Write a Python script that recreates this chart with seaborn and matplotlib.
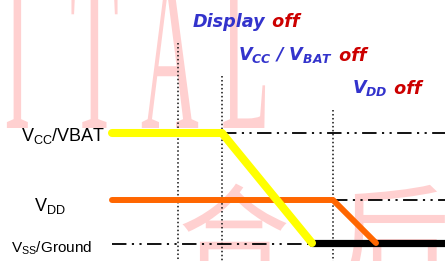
"""
Power-off sequence timing diagram
"""

import matplotlib
matplotlib.use('Agg')
import matplotlib.pyplot as plt
import seaborn as sns
from matplotlib.textpath import TextPath
from matplotlib.patches import PathPatch
from matplotlib.font_manager import FontProperties
from matplotlib.transforms import Affine2D

sns.set_style('white')
plt.rcParams['font.family'] = ['Liberation Sans', 'DejaVu Sans', 'Noto Sans CJK SC']
plt.rcParams['mathtext.fontset'] = 'custom'
plt.rcParams['mathtext.rm'] = 'Liberation Sans'
plt.rcParams['mathtext.it'] = 'DejaVu Sans:italic:bold'

# waveform data (time, level) in diagram units
vcc_time = [112, 222, 312]
vcc_level = [133, 133, 243]
vdd_time = [112, 333, 376]
vdd_level = [200, 200, 243]
gnd_time = [312, 445]
gnd_level = [243, 243]

# event markers
event_time = [178, 222, 333]
event_top = [43, 76, 110]

# reference (dash-dot) levels: level, start, end
ref_level = [133, 200, 244]
ref_start = [222, 333, 112]
ref_end = [445, 445, 312]

signal_labels = [r'$\mathrm{V_{CC}}$/VBAT', r'$\mathrm{V_{DD}}$', r'$\mathrm{V_{SS}}$/Ground']

BLUE = '#3333cc'
RED = '#cc0000'

fig = plt.figure(figsize=(4.45, 2.61), dpi=100)
ax = fig.add_axes([0, 0, 1, 1])
ax.set_xlim(0, 445)
ax.set_ylim(261, 0)
ax.axis('off')


def watermark(txt, family, x0, base, sx, sy):
    tp = TextPath((0, 0), txt, size=1, prop=FontProperties(family=family))
    tr = Affine2D().scale(sx, -sy).translate(x0, base) + ax.transData
    ax.add_patch(PathPatch(tp, transform=tr, facecolor='#ffd0d0',
                           edgecolor='none', zorder=0))


# faint background watermark (tall, narrow serif letters)
for ch, x0 in zip('ITAL', [4, 70, 141, 221]):
    watermark(ch, 'Liberation Serif', x0, 128, 80, 227)
watermark('合', 'Noto Sans CJK SC', 178, 278, 112, 112)
watermark('后', 'Noto Sans CJK SC', 338, 278, 112, 112)

# event markers
for t, top in zip(event_time, event_top):
    ax.plot([t, t], [top, 261], color='#111111', lw=1.1,
            linestyle=(0, (1, 1.6)), zorder=2)

# reference levels
for lv, s, e in zip(ref_level, ref_start, ref_end):
    ax.plot([s, e], [lv, lv], color='black', lw=1.3,
            linestyle=(0, (8, 3, 1.2, 3, 1.2, 3)), zorder=2)

sns.lineplot(x=gnd_time, y=gnd_level, sort=False, estimator=None,
             color='black', lw=5.2, ax=ax, zorder=3)
sns.lineplot(x=vdd_time, y=vdd_level, sort=False, estimator=None,
             color='#ff6600', lw=4.3, ax=ax, zorder=4)
sns.lineplot(x=vcc_time, y=vcc_level, sort=False, estimator=None,
             color='#ffff00', lw=5.8, ax=ax, zorder=5)

# signal labels
ax.text(105, 136, signal_labels[0], ha='right', va='center', fontsize=13, color='black')
ax.text(50, 206, signal_labels[1], ha='center', va='center', fontsize=13, color='black')
ax.text(92, 248, signal_labels[2], ha='right', va='center', fontsize=11, color='black')


def two_color(x, y, blue_txt, red_txt):
    t1 = ax.text(x, y, blue_txt, color=BLUE, fontsize=12.7, fontweight='bold',
                 style='italic', va='baseline', ha='left', family='DejaVu Sans')
    ax.annotate(red_txt, xy=(1, 0), xycoords=t1, color=RED, fontsize=12.7,
                fontweight='bold', style='italic', va='bottom', ha='left',
                family='DejaVu Sans')


two_color(193, 27, 'Display', ' off')
two_color(238, 60, r'$\mathit{V_{CC}}$ / $\mathit{V_{BAT}}$', ' off')
two_color(352, 93, r'$\mathit{V_{DD}}$', ' off')

plt.savefig('out.png', dpi=100)
plt.close()
